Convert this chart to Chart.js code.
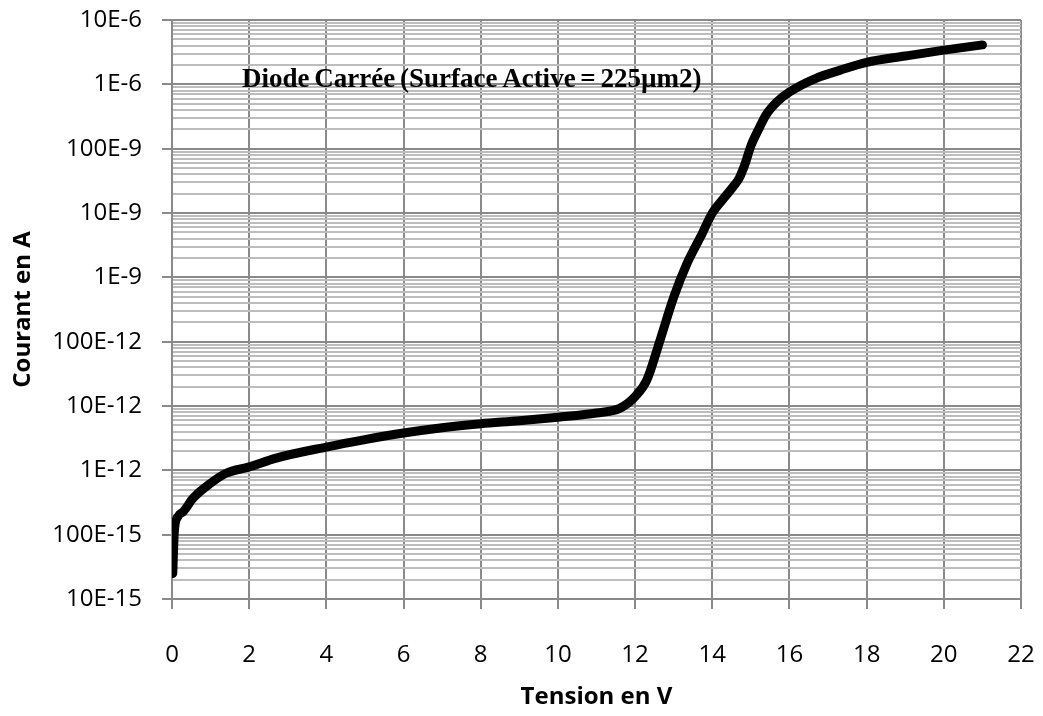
<!DOCTYPE html>
<html>
<head>
<meta charset="utf-8">
<script src="https://cdn.jsdelivr.net/npm/chart.js@4/dist/chart.umd.min.js"></script>
<style>
  html, body { margin: 0; padding: 0; background: #fff; }
  #wrap { width: 1043px; height: 716px; }
</style>
</head>
<body>
<div id="wrap"><canvas id="ivChart" width="1043" height="716"></canvas></div>
<script>
// I(V) sweep of the square diode
const voltage = [0.02, 0.06, 0.15, 0.3, 0.55, 1.0, 1.4, 2.0, 2.7, 4.0, 5.0, 6.0, 7.0, 8.0, 9.0, 10.0, 11.0, 11.6,
  12.0, 12.3, 12.65, 13.0, 13.35, 13.7, 14.0, 14.3, 14.55, 14.7, 14.85, 15.0, 15.2, 15.4, 15.7, 16.0, 16.7, 17.3,
  18.0, 19.0, 20.0, 21.0];
const current = [2.5e-14, 1.1e-13, 1.9e-13, 2.3e-13, 3.7e-13, 6.3e-13, 9.0e-13, 1.13e-12, 1.55e-12, 2.3e-12, 3.0e-12,
  3.8e-12, 4.6e-12, 5.3e-12, 5.9e-12, 6.7e-12, 7.8e-12, 9.2e-12,
  1.4e-11, 2.5e-11, 1.07e-10, 4.9e-10, 1.66e-9, 4.3e-9, 1.0e-8, 1.7e-8, 2.6e-8, 3.5e-8, 5.8e-8, 1.1e-7, 2.0e-7,
  3.4e-7, 5.5e-7, 7.6e-7, 1.25e-6, 1.65e-6, 2.2e-6, 2.75e-6, 3.4e-6, 4.1e-6];

// decades on the current axis and how they are labelled
const yDecades = [1e-14, 1e-13, 1e-12, 1e-11, 1e-10, 1e-9, 1e-8, 1e-7, 1e-6, 1e-5];
const yTickLabels = ['10E-15', '100E-15', '1E-12', '10E-12', '100E-12', '1E-9', '10E-9', '100E-9', '1E-6', '10E-6'];
const xTicks = [0, 2, 4, 6, 8, 10, 12, 14, 16, 18, 20, 22];

const chartTitle = 'Diode Carrée (Surface Active = 225µm2)';

const majorGrid = '#8a8a8a';
const minorGrid = '#bdbdbd';

Chart.defaults.font.family = "'Open Sans', sans-serif";
Chart.defaults.color = '#000';

const points = voltage.map((v, i) => ({ x: v, y: current[i] }));

// title sits inside the plot, over the grid
const insideTitle = {
  id: 'insideTitle',
  afterDraw(chart) {
    const ctx = chart.ctx;
    ctx.save();
    ctx.font = "bold 27px 'Liberation Serif', serif";
    ctx.fillStyle = '#000';
    ctx.textAlign = 'left';
    ctx.textBaseline = 'alphabetic';
    ctx.wordSpacing = '-2px';
    ctx.fillText(chartTitle, 242, 87);
    ctx.restore();
  }
};

new Chart(document.getElementById('ivChart'), {
  type: 'line',
  data: {
    datasets: [{
      data: points,
      borderColor: '#000',
      borderWidth: 9,
      borderCapStyle: 'round',
      borderJoinStyle: 'round',
      cubicInterpolationMode: 'monotone',
      pointRadius: 0,
      fill: false
    }]
  },
  options: {
    responsive: false,
    animation: false,
    layout: { padding: { top: 20, right: 22, left: 0, bottom: 0 } },
    plugins: {
      legend: { display: false },
      tooltip: { enabled: false }
    },
    scales: {
      x: {
        type: 'linear',
        min: 0,
        max: 22,
        afterFit(scale) {
          scale.height = 117;
          scale.paddingLeft = 0;
          scale.paddingRight = 0;
        },
        afterBuildTicks(scale) { scale.ticks = xTicks.map(v => ({ value: v })); },
        ticks: {
          autoSkip: false,
          maxRotation: 0,
          padding: 32,
          font: { size: 24 },
          callback: v => String(v)
        },
        grid: { color: majorGrid, lineWidth: 2, tickLength: 10, tickColor: majorGrid, tickWidth: 2 },
        border: { color: majorGrid, width: 2 },
        title: {
          display: true,
          text: 'Tension en V',
          font: { size: 24, weight: 'bold' },
          padding: { top: 0, bottom: 4 }
        }
      },
      y: {
        type: 'logarithmic',
        min: 1e-14,
        max: 1e-5,
        afterFit(scale) {
          scale.width = 172;
          scale.paddingTop = 0;
          scale.paddingBottom = 0;
        },
        afterBuildTicks(scale) {
          const ticks = [];
          yDecades.forEach((d, i) => {
            ticks.push({ value: d, major: true });
            if (i < yDecades.length - 1) {
              for (let m = 2; m <= 9; m++) ticks.push({ value: m * d, major: false });
            }
          });
          scale.ticks = ticks;
        },
        ticks: {
          autoSkip: false,
          padding: 20,
          font: { size: 24 },
          callback: (value) => {
            const i = yDecades.findIndex(d => Math.abs(value / d - 1) < 1e-6);
            return i >= 0 ? yTickLabels[i] : '';
          }
        },
        grid: {
          color: ctx => (ctx.tick && ctx.tick.major ? majorGrid : minorGrid),
          lineWidth: 2,
          tickLength: 10,
          tickColor: ctx => (ctx.tick && ctx.tick.major ? majorGrid : 'rgba(0,0,0,0)'),
          tickWidth: 2
        },
        border: { color: majorGrid, width: 2 },
        title: {
          display: true,
          text: 'Courant en A',
          font: { size: 24, weight: 'bold' },
          padding: { top: 9, bottom: 0 }
        }
      }
    }
  },
  plugins: [insideTitle]
});
</script>
</body>
</html>
